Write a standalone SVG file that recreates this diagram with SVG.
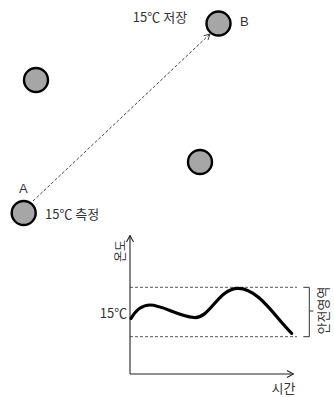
<svg xmlns="http://www.w3.org/2000/svg" width="334" height="397" viewBox="0 0 334 397">
<defs>
<style>
.node{fill:#a6a6a6;stroke:#000;stroke-width:2.4}
.t{font-family:"Noto Sans CJK KR","Malgun Gothic",sans-serif;font-size:13px;fill:#333}
.lat{font-family:"Liberation Sans",Arial,sans-serif;font-size:13px;fill:#333}
.axis{stroke:#222;stroke-width:1.1;fill:none}
.dash{stroke:#555;stroke-width:1;stroke-dasharray:3 2;fill:none}
</style>
<marker id="arr" viewBox="0 0 8 8" refX="7.5" refY="4" markerWidth="8" markerHeight="8" markerUnits="userSpaceOnUse" orient="auto">
<path d="M1,0.5 L7.5,4 L1,7.5" fill="none" stroke="#222" stroke-width="1.1"/>
</marker>
<marker id="arrs" viewBox="0 0 8 8" refX="7.5" refY="4" markerWidth="7" markerHeight="7" markerUnits="userSpaceOnUse" orient="auto">
<path d="M1,0.5 L7.5,4 L1,7.5" fill="none" stroke="#444" stroke-width="1.1"/>
</marker>
</defs>
<g id="connectors">
<line x1="33" y1="201" x2="210" y2="34" stroke="#444" stroke-width="1" stroke-dasharray="3 2" marker-end="url(#arrs)"/>
</g>
<g id="nodeB">
<circle class="node" cx="218.5" cy="23.5" r="12"/>
<text class="lat" x="240" y="26">B</text>
<text class="t" x="160" y="22" text-anchor="middle">15℃ 저장</text>
</g>
<g id="node2">
<circle class="node" cx="36" cy="80" r="12"/>
</g>
<g id="node3">
<circle class="node" cx="200" cy="162" r="12"/>
</g>
<g id="nodeA">
<circle class="node" cx="23.7" cy="213" r="12"/>
<text class="lat" x="23.3" y="193" text-anchor="middle">A</text>
<text class="t" x="45" y="218.5">15℃ 측정</text>
</g>
<g id="chart">
<line class="dash" x1="130" y1="287.3" x2="297" y2="287.3"/>
<line class="dash" x1="130" y1="336.7" x2="297" y2="336.7"/>
<line class="axis" x1="130" y1="374" x2="130" y2="235.5" marker-end="url(#arr)"/>
<line class="axis" x1="130" y1="374" x2="293.5" y2="374" marker-end="url(#arr)"/>
<path d="M131,318.3 C136,310 142,305 150,305 C162,305 178,316 194,317.5 C210,319 218,288.5 238,288.3 C258,288 275,317 291.7,333.3" fill="none" stroke="#000" stroke-width="3.2" stroke-linecap="round"/>
<path d="M303.3,287.3 H309.3 V336.7 H303.3 M309.3,311 H313.3" fill="none" stroke="#333" stroke-width="1"/>
<text class="t" x="113.5" y="317.5" text-anchor="middle">15℃</text>
<text class="t" transform="translate(119.5,251) rotate(-90)" text-anchor="middle" dominant-baseline="central" style="font-size:12px">온도</text>
<text class="t" transform="translate(322.5,310.5) rotate(-90)" text-anchor="middle" dominant-baseline="central">안전영역</text>
<text class="t" x="283.5" y="393" text-anchor="middle">시간</text>
</g>
</svg>
